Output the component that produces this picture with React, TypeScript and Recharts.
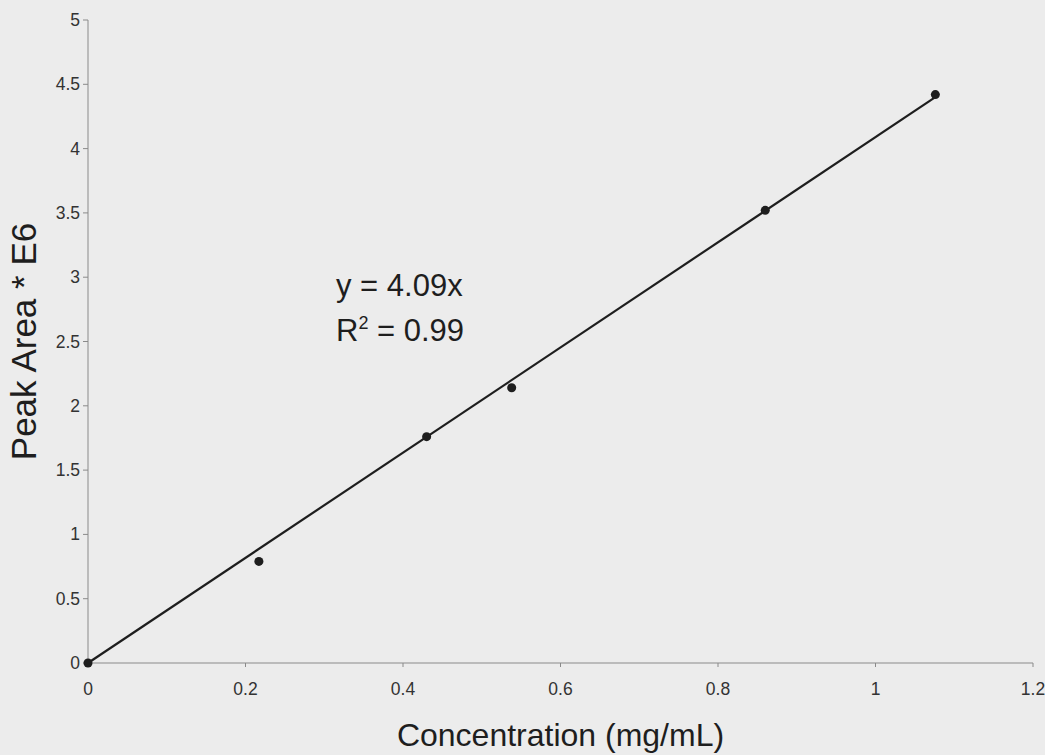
import React from "react";
import {
  ComposedChart, Scatter, Line, XAxis, YAxis
} from "recharts";

// calibration points
const concentration = [0, 0.217, 0.43, 0.538, 0.86, 1.076];
const peakArea = [0, 0.79, 1.76, 2.14, 3.52, 4.42];

// linear trendline through origin, drawn to last standard
const fitX = [0, 1.076];
const fitY = [0, 4.4];

const xTicks = [0, 0.2, 0.4, 0.6, 0.8, 1, 1.2];
const yTicks = [0, 0.5, 1, 1.5, 2, 2.5, 3, 3.5, 4, 4.5, 5];

const points = concentration.map((x, i) => ({ x, y: peakArea[i] }));
const fit = fitX.map((x, i) => ({ x, y: fitY[i] }));

const font = "'Liberation Sans', Arial, sans-serif";
const axisGray = "#8a8a8a";
const ink = "#1e1e1e";

const XTick = (p: any) => (
  <text x={p.x} y={p.y + 24} textAnchor="middle" fontSize={17.5} fontFamily={font} fill="#333">
    {p.payload.value}
  </text>
);

const YTick = (p: any) => (
  <text x={p.x - 1} y={p.y + 6} textAnchor="end" fontSize={17.5} fontFamily={font} fill="#333">
    {p.payload.value}
  </text>
);

export default function App() {
  return (
    <div style={{ position: "absolute", left: 0, top: 0, width: 1045, height: 755, background: "#ececec", fontFamily: font }}>
      <ComposedChart width={1045} height={755} margin={{ top: 20, right: 12, bottom: 0, left: 0 }}>
        <XAxis
          type="number"
          dataKey="x"
          domain={[0, 1.2]}
          ticks={xTicks}
          axisLine={{ stroke: axisGray }}
          tickLine={{ stroke: axisGray }}
          tickSize={4}
          tickMargin={4}
          height={92}
          tick={<XTick />}
          label={{ value: "Concentration (mg/mL)", position: "insideBottom", offset: 9, style: { fill: ink, fontSize: 32, fontFamily: font } }}
        />
        <YAxis
          type="number"
          dataKey="y"
          domain={[0, 5]}
          ticks={yTicks}
          width={88}
          axisLine={{ stroke: axisGray }}
          tickLine={{ stroke: axisGray }}
          tickSize={5}
          tickMargin={2}
          tick={<YTick />}
          label={{ value: "Peak Area * E6", angle: -90, position: "insideLeft", offset: 24, style: { textAnchor: "middle", fill: ink, fontSize: 35, fontFamily: font } }}
        />
        <Line
          data={fit}
          dataKey="y"
          type="linear"
          stroke={ink}
          strokeWidth={2.2}
          dot={false}
          activeDot={false}
          isAnimationActive={false}
        />
        <Scatter data={points} dataKey="y" fill={ink} shape="circle" legendType="none" isAnimationActive={false} />
      </ComposedChart>
      <div style={{ position: "absolute", left: 336, top: 263, fontSize: 31, lineHeight: "45px", color: ink }}>
        <div>y = 4.09x</div>
        <div>R<sup style={{ fontSize: 18, verticalAlign: "12px", lineHeight: 0 }}>2</sup> = 0.99</div>
      </div>
    </div>
  );
}
